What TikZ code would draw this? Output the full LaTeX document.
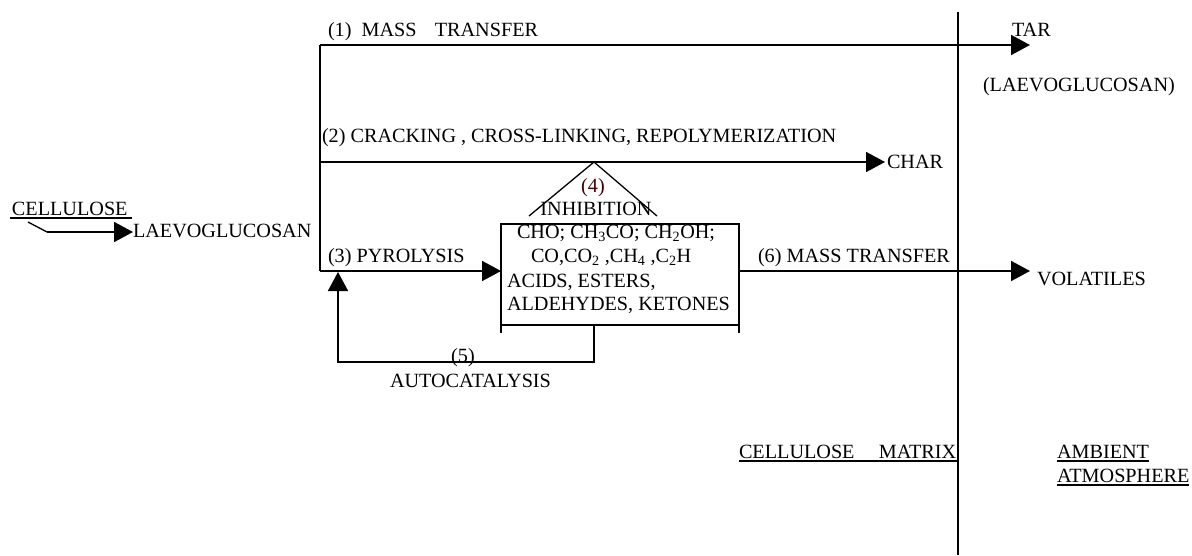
\documentclass[tikz,border=0pt]{standalone}
\usepackage{fontspec}
\setmainfont{Liberation Serif}
\usetikzlibrary{arrows.meta}
\begin{document}
\begin{tikzpicture}[x=1pt,y=-1pt,
  every node/.style={inner sep=0pt,outer sep=0pt,font=\fontsize{20.2}{23}\selectfont},
  lbl/.style={anchor=base west},
  ln/.style={line width=1.7pt},
  arr/.style={line width=1.7pt,-{Triangle[length=19pt,width=20pt]}},
  ul/.style={line width=1.1pt}]
\useasboundingbox (0,0) rectangle (1192,555);
% divider
\coordinate (dtop) at (958,12);
\coordinate (dbot) at (958,555);
\draw[ln] (dtop) -- (dbot);
% junctions
\coordinate (j1) at (320,45);
\coordinate (j2) at (320,162);
\coordinate (j3) at (320,271);
\coordinate (tip1) at (1030,45);
\coordinate (tip2) at (885,162);
\coordinate (tip6) at (1030,271);
\coordinate (apex) at (594,162);
\coordinate (footL) at (529,216);
\coordinate (footR) at (657,216);
% box
\node[draw,line width=1.3pt,minimum width=238pt,minimum height=101pt] (box) at (620,274.5) {};
\draw[line width=1.3pt] (box.south west) -- ++(0,8);
\draw[line width=1.3pt] (box.south east) -- ++(0,8);
% main lines
\draw[ln] (j3) -- (j1);
\draw[arr] (j1) -- (tip1);
\draw[arr] (j2) -- (tip2);
\draw[arr] (j3) -- (box.west |- j3);
\draw[arr] (box.east |- j3) -- (tip6);
\draw[line width=1.3pt] (footL) -- (apex) -- (footR);
% autocatalysis loop
\coordinate (lp) at (338,362);
\coordinate (fb) at (338,272);
\draw[arr] (box.south -| apex) |- (lp) -- (fb);
% cellulose -> laevoglucosan
\node[lbl] (cell) at (12,215) {CELLULOSE};
\draw[ul] (10,218) -- (132,218);
\coordinate (c1) at (28,222);
\coordinate (c2) at (47,232);
\node[lbl] (laev) at (133,237) {LAEVOGLUCOSAN};
\draw[line width=1.3pt] (c1) -- (c2);
\draw[arr] (c2) -- (laev.west |- c2);
% labels
\node[lbl] (l1) at (328,36.5) {(1)\ \ MASS\hspace{0.9em}TRANSFER};
\node[lbl] (tar) at (1012,36.5) {TAR};
\node[lbl] (lg) at (983,91) {(LAEVOGLUCOSAN)};
\node[lbl] (l2) at (322,142) {(2) CRACKING , CROSS-LINKING, REPOLYMERIZATION};
\node[lbl] (char) at (887,168) {CHAR};
\node[anchor=base,text=black!75!red] (l4) at (593,192) {(4)};
\node[anchor=base] (inh) at (596,215) {INHIBITION};
\node[lbl] (l3) at (328,262) {(3) PYROLYSIS};
\node[lbl] (b1) at (517,238) {CHO; CH\textsubscript{3}CO; CH\textsubscript{2}OH;};
\node[lbl] (b2) at (531,262) {CO,CO\textsubscript{2} ,CH\textsubscript{4} ,C\textsubscript{2}H};
\node[lbl] (b3) at (507,287) {ACIDS, ESTERS,};
\node[lbl] (b4) at (507,310) {ALDEHYDES, KETONES};
\node[lbl] (l6) at (758,262) {(6) MASS TRANSFER};
\node[lbl] (vol) at (1037,285) {VOLATILES};
\node[anchor=base] (l5) at (463,362) {(5)};
\node[lbl] (auto) at (390,387) {AUTOCATALYSIS};
\node[lbl] (cm) at (739,458) {CELLULOSE\hspace{1.2em}MATRIX};
\draw[ul] (739,461) -- (958,461);
\node[lbl] (amb) at (1057,458) {AMBIENT};
\draw[ul] (amb.west |- 0,461) -- (amb.east |- 0,461);
\node[lbl] (atm) at (1057,482) {ATMOSPHERE};
\draw[ul] (atm.west |- 0,485) -- (atm.east |- 0,485);
\end{tikzpicture}
\end{document}
